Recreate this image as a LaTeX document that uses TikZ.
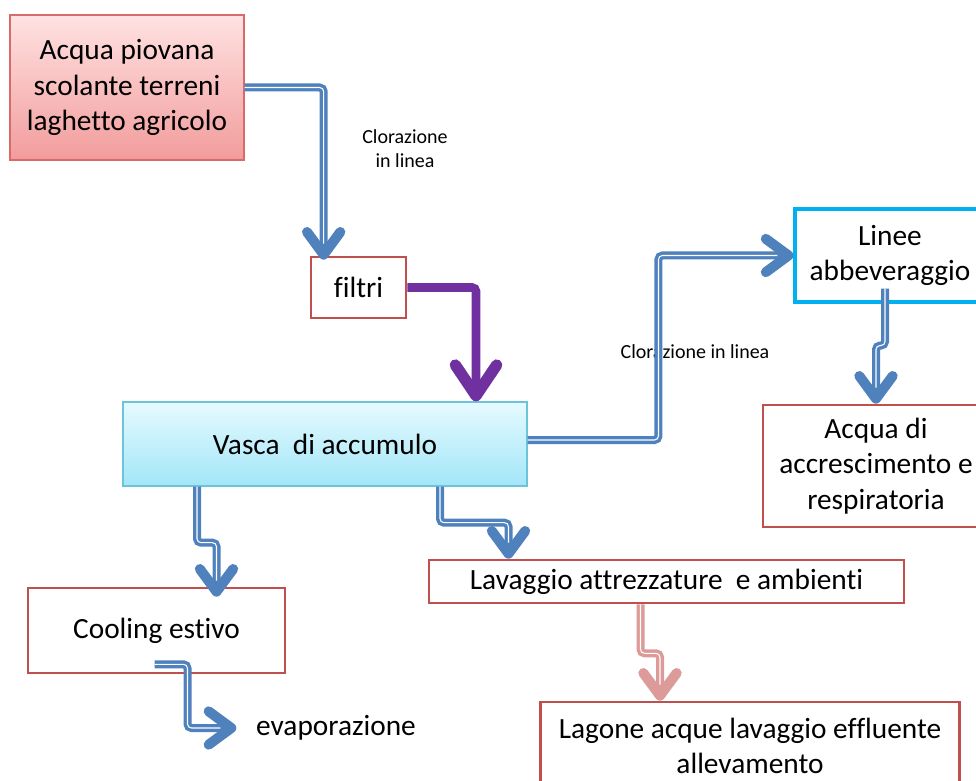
\documentclass[tikz,border=0pt]{standalone}
\usepackage{fontspec}
\setmainfont[Ligatures={NoCommon,NoContextual,NoRequired},RawFeature={-liga;-clig;-calt}]{Carlito}
\usetikzlibrary{arrows.meta,calc,positioning}

\definecolor{boxred}{HTML}{C0504D}
\definecolor{srcline}{HTML}{D86A6A}
\definecolor{srctop}{HTML}{FFE2E2}
\definecolor{srcbot}{HTML}{F29C9C}
\definecolor{vascaline}{HTML}{6CC4DA}
\definecolor{vascatop}{HTML}{E6FAFF}
\definecolor{vascabot}{HTML}{A2E6F8}
\definecolor{cyanline}{HTML}{00B0F0}
\definecolor{pipeblue}{HTML}{4F81BD}
\definecolor{pipepink}{HTML}{DC9A98}
\definecolor{purp}{HTML}{7030A0}

\begin{document}
\begin{tikzpicture}[
        x=0.75pt, y=-0.75pt, semithick,
        every node/.style={font=\fontsize{22}{26.5}\selectfont, align=center}
    ]

    \tikzstyle{block} = [rectangle, draw=boxred, line width=2pt, fill=white, inner sep=0pt]
    \tikzstyle{note} = [font=\fontsize{15}{18}\selectfont]
    \tikzstyle{pipe} = [draw=pipeblue, line width=6pt, rounded corners=3pt,
        -{Straight Barb[length=17pt,width=25pt,line width=7.5pt,round]},
        postaction={draw=white, line width=0.8pt, -, shorten >=12pt}]
    \tikzstyle{purplepipe} = [draw=purp, line width=6.5pt, rounded corners=3pt,
        -{Straight Barb[length=23pt,width=31pt,line width=8.5pt,round]}]

    \useasboundingbox (0,0) rectangle (976,781);
    \clip (0,0) rectangle (976,781);

    \node[block, draw=srcline, line width=1pt, top color=srctop, bottom color=srcbot,
        minimum width=175.5pt, minimum height=108.75pt] (src) at (127,87.5)
        {Acqua piovana\\scolante terreni\\laghetto agricolo};
    \node[block, minimum width=71.25pt, minimum height=45.75pt] (filt) at (358.5,287.5) {filtri};
    \node[block, draw=vascaline, line width=1pt, top color=vascatop, bottom color=vascabot,
        minimum width=303pt, minimum height=63pt] (vasca) at (325,444) {Vasca~ di accumulo};
    \node[block, draw=cyanline, line width=2.3pt, minimum width=142.5pt, minimum height=69.75pt]
        (linee) at (890,255.5) {Linee\\abbeveraggio};
    \node[block, minimum width=169.5pt, minimum height=91.5pt] (acc) at (876,466)
        {Acqua di\\accrescimento e\\respiratoria};
    \node[block, minimum width=356.25pt, minimum height=32.25pt] (lav) at (666.5,581.5)
        {Lavaggio attrezzature~ e ambienti};
    \node[block, minimum width=192.75pt, minimum height=63.75pt] (cool) at (156.5,630.5) {Cooling estivo};
    \node (evap) at (336,728) {evaporazione};
    \node[block, minimum width=314.25pt, minimum height=66pt] (lag) at (750,746)
        {Lagone acque lavaggio effluente\\allevamento};

    \node[note] (clor1) at (405,149) {Clorazione\\in linea};
    \node[note] (clor2) at (695,352) {Clorazione in linea};

    \draw[pipe] (src.east) -| ($(filt.north west)+(14,4)$);
    \draw[purplepipe] (filt.east) -| ($(vasca.north)+(151,0)$);
    \draw[pipe] ($(vasca.east)+(0,-4)$) -| ($(linee.west)+(-135,0)$) -- (linee.west);
    \draw[pipe] ($(linee.south)+(-5,-15)$) -- ++(0,57) -| (acc.north);
    \draw[pipe] ($(vasca.south)+(-128,0)$) -- ++(0,56) -| ($(cool.north)+(60,10)$);
    \draw[pipe] ($(vasca.south)+(115,0)$) -- ++(0,36) -| ($(lav.north)+(-158,0)$);
    \draw[pipe, draw=pipepink] ($(lav.south)+(-26,0)$) -- ++(0,49) -| ($(lag.north)+(-90,0)$);
    \draw[pipe] ($(cool.south)+(-2,-10)$) -- ++(33,0) |- ($(evap.west)+(-15,0)$);

\end{tikzpicture}
\end{document}
